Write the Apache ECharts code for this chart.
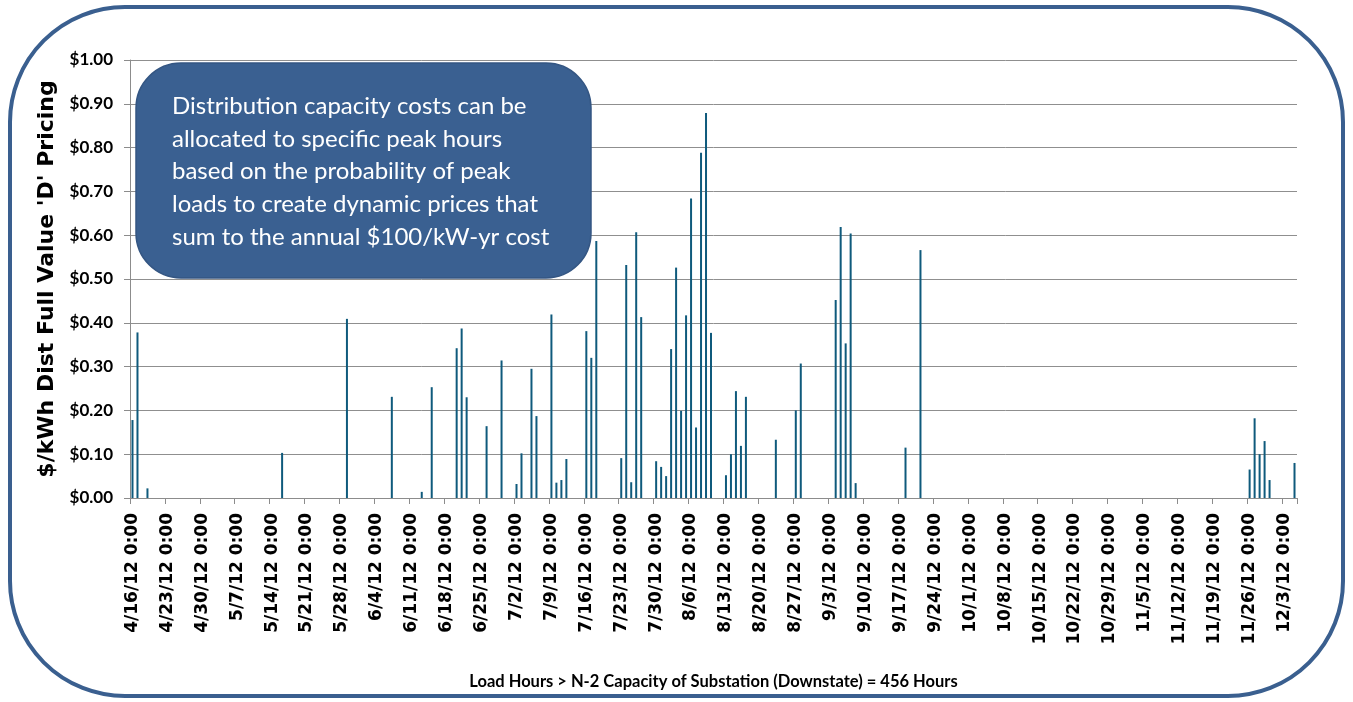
<!DOCTYPE html>
<html>
<head>
<meta charset="utf-8">
<script src="https://cdn.jsdelivr.net/npm/echarts@6/dist/echarts.min.js"></script>
<style>
html,body{margin:0;padding:0;background:#fff;}
#chart{width:1353px;height:702px;}
</style>
</head>
<body>
<div id="chart"></div>
<script>
// ---- data ----
const startDate = [2012, 4, 16];   // first day on the axis
const dayCount = 234;              // 4/16/12 .. 12/5/12
const tickLabels = ['4/16/12 0:00','4/23/12 0:00','4/30/12 0:00','5/7/12 0:00','5/14/12 0:00','5/21/12 0:00','5/28/12 0:00','6/4/12 0:00','6/11/12 0:00','6/18/12 0:00','6/25/12 0:00','7/2/12 0:00','7/9/12 0:00','7/16/12 0:00','7/23/12 0:00','7/30/12 0:00','8/6/12 0:00','8/13/12 0:00','8/20/12 0:00','8/27/12 0:00','9/3/12 0:00','9/10/12 0:00','9/17/12 0:00','9/24/12 0:00','10/1/12 0:00','10/8/12 0:00','10/15/12 0:00','10/22/12 0:00','10/29/12 0:00','11/5/12 0:00','11/12/12 0:00','11/19/12 0:00','11/26/12 0:00','12/3/12 0:00'];
const barDates = ['4/16','4/17','4/19','5/16','5/29','6/7','6/13','6/15','6/20','6/21','6/22','6/26','6/29','7/2','7/3','7/5','7/6','7/9','7/10','7/11','7/12','7/16','7/17','7/18','7/23','7/24','7/25','7/26','7/27','7/30','7/31','8/1','8/2','8/3','8/4','8/5','8/6','8/7','8/8','8/9','8/10','8/13','8/14','8/15','8/16','8/17','8/23','8/27','8/28','9/4','9/5','9/6','9/7','9/8','9/18','9/21','11/26','11/27','11/28','11/29','11/30','12/5'];
const barValues = [0.178,0.378,0.022,0.103,0.409,0.231,0.014,0.253,0.342,0.387,0.230,0.164,0.314,0.032,0.102,0.295,0.187,0.419,0.035,0.041,0.089,0.381,0.320,0.587,0.091,0.532,0.036,0.607,0.413,0.084,0.071,0.050,0.340,0.526,0.199,0.417,0.684,0.161,0.788,0.879,0.377,0.052,0.100,0.244,0.119,0.231,0.133,0.200,0.307,0.452,0.619,0.353,0.604,0.034,0.115,0.566,0.065,0.182,0.100,0.130,0.041,0.080];
const yTitle = "$/kWh Dist Full Value 'D' Pricing";
const xTitle = 'Load Hours > N-2 Capacity of Substation (Downstate) = 456 Hours';
const noteText = 'Distribution capacity costs can be\nallocated to specific peak hours\nbased on the probability of peak\nloads to create dynamic prices that\nsum to the annual $100/kW-yr cost';

// ---- build categories (one per day) ----
const categories = [];
const t0 = Date.UTC(startDate[0], startDate[1]-1, startDate[2]);
for (let i = 0; i < dayCount; i++) {
  const d = new Date(t0 + i*86400000);
  categories.push((d.getUTCMonth()+1) + '/' + d.getUTCDate());
}
const dayValues = categories.map(() => null);
barDates.forEach((k, j) => { dayValues[categories.indexOf(k)] = barValues[j]; });

const weekly = (i) => i % 7 === 0;

const chart = echarts.init(document.getElementById('chart'), null, {renderer:'canvas'});
chart.setOption({
  animation:false,
  backgroundColor:'#ffffff',
  grid:{left:130, right:56, top:60, bottom:204, containLabel:false},
  xAxis:{
    type:'category',
    data:categories,
    boundaryGap:true,
    name:xTitle,
    nameLocation:'middle',
    nameGap:175,
    nameTextStyle:{fontFamily:"Lato, sans-serif", fontWeight:'bold', fontSize:16.5, color:'#000'},
    axisLine:{show:true, lineStyle:{color:'#8c8c8c', width:1}},
    axisTick:{show:true, interval:(i)=>weekly(i), length:6, lineStyle:{color:'#8c8c8c'}},
    axisLabel:{
      interval:(i)=>weekly(i),
      rotate:90,
      margin:15,
      fontFamily:"'DejaVu Sans', Verdana, sans-serif",
      fontWeight:'bold',
      fontSize:17,
      color:'#000',
      formatter:(v, i)=> tickLabels[Math.floor(i/7)] || ''
    },
    splitLine:{show:false}
  },
  yAxis:{
    type:'value',
    min:0, max:1, interval:0.1,
    name:yTitle,
    nameLocation:'middle',
    nameGap:54,
    nameRotate:90,
    nameTextStyle:{fontFamily:"'DejaVu Sans', Verdana, sans-serif", fontWeight:'bold', fontSize:22, color:'#000'},
    axisLine:{show:true, lineStyle:{color:'#8c8c8c', width:1}},
    axisTick:{show:true, length:6, lineStyle:{color:'#8c8c8c'}},
    axisLabel:{
      margin:17,
      fontFamily:"Lato, sans-serif",
      fontWeight:'bold',
      fontSize:17,
      color:'#000',
      formatter:(v)=>'$' + v.toFixed(2)
    },
    splitLine:{show:true, lineStyle:{color:'#8f8f8f', width:1}}
  },
  series:[{
    type:'bar',
    data:dayValues,
    barWidth:2,
    itemStyle:{color:'#0f5a7c'},
    z:3
  }],
  graphic:[
    {
      type:'rect',
      shape:{x:10, y:7, width:1333, height:689, r:115},
      style:{fill:'none', stroke:'#3a5f8f', lineWidth:4},
      z:10, silent:true
    },
    {
      type:'rect',
      shape:{x:136, y:63, width:455, height:215, r:45},
      style:{fill:'#3a6091', stroke:'#345683', lineWidth:1.5},
      z:20, silent:true
    },
    {
      type:'text',
      left:172, top:90,
      style:{text:noteText, fill:'#ffffff', font:"24px Lato, 'Open Sans', sans-serif", lineHeight:32.7},
      z:21, silent:true
    }
  ]
});
</script>
</body>
</html>
